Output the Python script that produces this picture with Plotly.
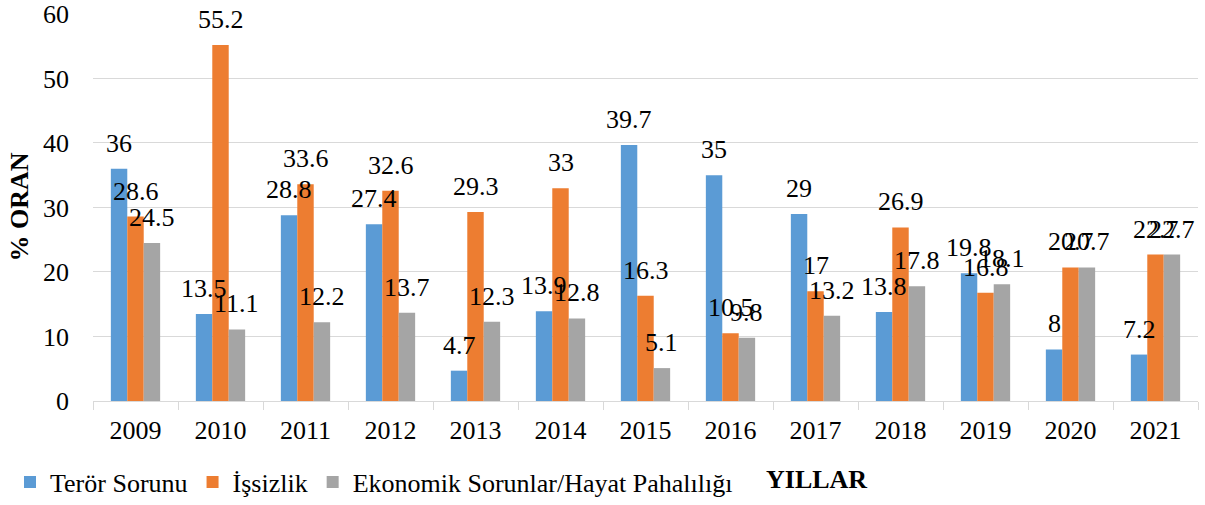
import plotly.graph_objects as go

years = ["2009", "2010", "2011", "2012", "2013", "2014", "2015", "2016", "2017", "2018", "2019", "2020", "2021"]
teror = [36, 13.5, 28.8, 27.4, 4.7, 13.9, 39.7, 35, 29, 13.8, 19.8, 8, 7.2]
issizlik = [28.6, 55.2, 33.6, 32.6, 29.3, 33, 16.3, 10.5, 17, 26.9, 16.8, 20.7, 22.7]
ekonomik = [24.5, 11.1, 12.2, 13.7, 12.3, 12.8, 5.1, 9.8, 13.2, 17.8, 18.1, 20.7, 22.7]

names = ["Terör Sorunu", "İşsizlik", "Ekonomik Sorunlar/Hayat Pahalılığı"]
colors = ["#5B9BD5", "#ED7D31", "#A5A5A5"]
FONT = "Liberation Serif"

W, H = 1205, 505
ML, MR, MT, MB = 93, 7, 13, 104
BARGAP = 0.42
cat_w = (W - ML - MR) / len(years)
bar_w = cat_w * (1 - BARGAP) / 3
plot_h = H - MT - MB
plot_w = W - ML - MR

fig = go.Figure()
annotations = []
for i, (name, vals, col) in enumerate(zip(names, [teror, issizlik, ekonomik], colors)):
    fig.add_trace(go.Bar(
        x=years, y=vals, name=name, marker=dict(color=col, line=dict(width=0)),
    ))
    # category axis: annotation x given as category index
    for j, v in enumerate(vals):
        annotations.append(dict(
            x=j, y=v, xref="x", yref="y", text=f"{v:g}", showarrow=False,
            xanchor="center", yanchor="bottom", xshift=(i - 1) * bar_w, yshift=9,
            font=dict(family=FONT, size=26, color="#000000"),
        ))

annotations.append(dict(text="<b>YILLAR</b>", xref="paper", yref="paper",
                        x=(764 - ML) / plot_w, y=(MT + plot_h - 479) / plot_h,
                        xanchor="left", yanchor="middle", showarrow=False,
                        font=dict(family=FONT, size=26, color="#000000")))

fig.update_layout(
    width=W, height=H,
    margin=dict(l=ML, r=MR, t=MT, b=MB, autoexpand=False),
    paper_bgcolor="white", plot_bgcolor="white",
    barmode="group", bargap=BARGAP, bargroupgap=0,
    font=dict(family=FONT, size=26, color="#000000"),
    showlegend=True,
    legend=dict(orientation="h", xref="container", yref="container",
                x=10 / W, y=(H - 482) / H, xanchor="left", yanchor="middle",
                font=dict(family=FONT, size=26, color="#000000"),
                itemwidth=30, tracegroupgap=0, bgcolor="rgba(0,0,0,0)"),
    xaxis=dict(type="category", range=[-0.5, len(years) - 0.5],
               showgrid=False, showline=True, linecolor="#D9D9D9", linewidth=1,
               ticks="outside", tickson="boundaries", ticklen=8, tickcolor="#D9D9D9",
               ticklabelstandoff=6,
               tickfont=dict(family=FONT, size=26, color="#000000")),
    yaxis=dict(range=[0, 60.15], tickvals=[0, 10, 20, 30, 40, 50, 60],
               showgrid=True, gridcolor="#D9D9D9", gridwidth=1,
               zeroline=False, showline=False, ticks="", ticklabelstandoff=23,
               tickfont=dict(family=FONT, size=26, color="#000000"),
               title=dict(text="<b>% ORAN</b>", font=dict(family=FONT, size=26, color="#000000"),
                          standoff=6)),
    annotations=annotations,
)

fig.write_html("out.html", config={"displayModeBar": False},
               post_script="document.body.style.margin='0';")
